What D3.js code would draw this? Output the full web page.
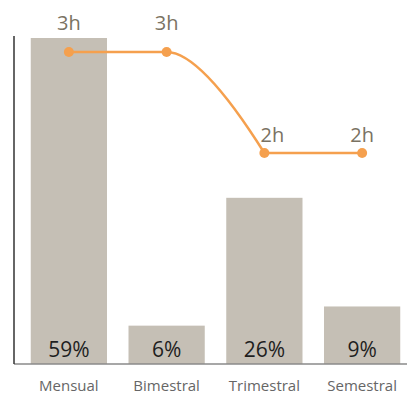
<!DOCTYPE html>
<meta charset="utf-8">
<style>
body { margin: 0; background: #fff; }
svg text { font-family: "Open Sans", sans-serif; }
</style>
<body>
<svg width="407" height="395"></svg>
<script src="https://d3js.org/d3.v7.min.js"></script>
<script>

var categories = ["Mensual", "Bimestral", "Trimestral", "Semestral"];
var shares = [59, 6, 26, 9];          // % bars
var hours = [3, 3, 2, 2];             // line values
var hourLabels = ["3h", "3h", "2h", "2h"];

var svg = d3.select("svg"),
    baseY = 364,
    plotTop = 38;

var x = d3.scaleBand()
    .domain(categories)
    .range([20, 411])
    .paddingInner(0.22)
    .paddingOuter(0.11);

// tallest bar is cut at the top of the plot
var y = d3.scaleLinear()
    .domain([0, 51])
    .range([baseY, plotTop])
    .clamp(true);

var hy = d3.scaleLinear()
    .domain([2, 3])
    .range([153, 52]);

var data = categories.map(function(c, i) {
  return {cat: c, share: shares[i], h: hours[i], label: hourLabels[i]};
});

// bars
svg.selectAll(".bar")
    .data(data)
  .enter().append("rect")
    .attr("class", "bar")
    .attr("x", function(d) { return x(d.cat); })
    .attr("width", x.bandwidth())
    .attr("y", function(d) { return y(d.share); })
    .attr("height", function(d) { return baseY - y(d.share); })
    .style("fill", "#c5bfb5");

svg.selectAll(".pct")
    .data(data)
  .enter().append("text")
    .attr("x", function(d) { return x(d.cat) + x.bandwidth() / 2; })
    .attr("y", baseY - 7)
    .attr("text-anchor", "middle")
    .style("font-size", "21px")
    .style("fill", "#1e1e1e")
    .text(function(d) { return d.share + "%"; });

// axes
svg.append("line")
    .attr("x1", 14).attr("x2", 407)
    .attr("y1", baseY).attr("y2", baseY)
    .style("stroke", "#8a8a8a")
    .style("stroke-width", 1.5);

svg.append("line")
    .attr("x1", 14).attr("x2", 14)
    .attr("y1", 36).attr("y2", baseY)
    .style("stroke", "#333")
    .style("stroke-width", 1.5);

svg.selectAll(".cat")
    .data(categories)
  .enter().append("text")
    .attr("x", function(d) { return x(d) + x.bandwidth() / 2; })
    .attr("y", 391)
    .attr("text-anchor", "middle")
    .style("font-size", "15px")
    .style("fill", "#666")
    .text(function(d) { return d; });

// flat runs stay straight, changes bend like a quadratic
function stepCurve(context) {
  var px, py, n = 0;
  return {
    areaStart: function() {}, areaEnd: function() {},
    lineStart: function() { n = 0; },
    lineEnd: function() {},
    point: function(px1, py1) {
      if (n++ === 0) context.moveTo(px1, py1);
      else if (py1 === py) context.lineTo(px1, py1);
      else context.quadraticCurveTo(px + 0.35 * (px1 - px), py, px1, py1);
      px = px1; py = py1;
    }
  };
}

var line = d3.line()
    .x(function(d) { return x(d.cat) + x.bandwidth() / 2; })
    .y(function(d) { return hy(d.h); })
    .curve(stepCurve);

svg.append("path")
    .datum(data)
    .attr("d", line)
    .style("fill", "none")
    .style("stroke", "#f5a04e")
    .style("stroke-width", 2.5);

svg.selectAll(".dot")
    .data(data)
  .enter().append("circle")
    .attr("cx", function(d) { return x(d.cat) + x.bandwidth() / 2; })
    .attr("cy", function(d) { return hy(d.h); })
    .attr("r", 5)
    .style("fill", "#f5a04e");

svg.selectAll(".hlabel")
    .data(data)
  .enter().append("text")
    .attr("x", function(d, i) {
      // nudge a label right when the line drops into its point
      var drop = i > 0 && hours[i - 1] > d.h;
      return x(d.cat) + x.bandwidth() / 2 + (drop ? 8 : 0);
    })
    .attr("y", function(d) { return hy(d.h) - (d.h > 2 ? 22 : 11); })
    .attr("text-anchor", "middle")
    .style("font-size", "20px")
    .style("fill", "#7a7262")
    .text(function(d) { return d.label; });

</script>
</body>
